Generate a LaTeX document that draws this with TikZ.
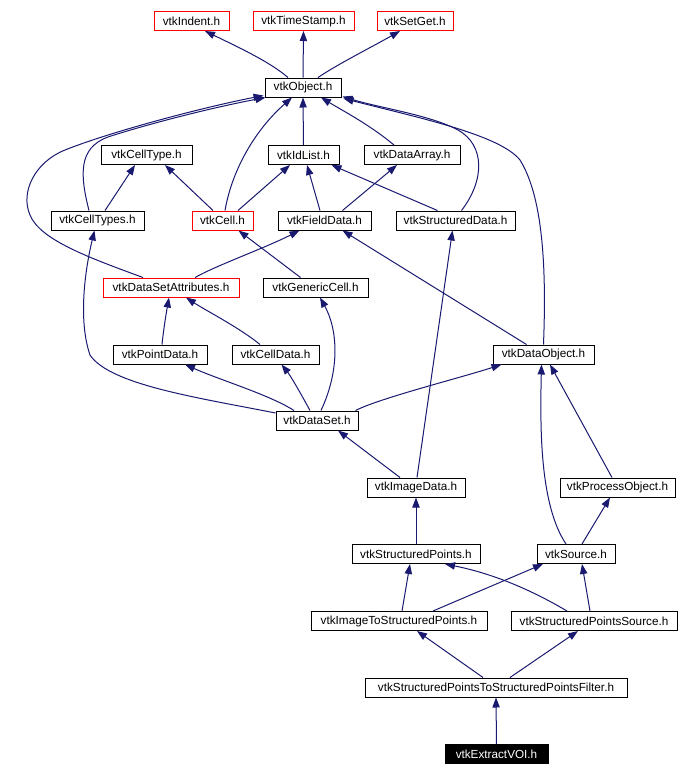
\documentclass[tikz,border=0pt]{standalone}
\usepackage{fontspec}
\setmainfont{Liberation Sans}
\usepackage{tikz}
\usetikzlibrary{arrows.meta,calc}
\definecolor{depblue}{RGB}{25,25,112}

\begin{document}
\begin{tikzpicture}[
  x=0.75pt, y=-0.75pt,
  font=\fontsize{8.8}{10}\selectfont,
  >={Triangle[length=7.5pt,width=5.5pt]},
  hdr/.style={rectangle, draw=black, line width=0.75pt, fill=white,
              inner sep=0pt, minimum height=14.25pt},
  hdrred/.style={hdr, draw=red},
  hdrcur/.style={hdr, fill=black, text=white},
  dep/.style={<-, draw=depblue, line width=0.75pt},
]
\useasboundingbox (0,0) rectangle (678,776);

% Row 1: base headers
\node[hdrred, minimum width=56.25pt] (indent) at (191.5,21) {vtkIndent.h};
\node[hdrred, minimum width=75.75pt] (tstamp) at (303.5,21) {vtkTimeStamp.h};
\node[hdrred, minimum width=57pt] (setget) at (415,21) {vtkSetGet.h};

% Row 2
\node[hdr, minimum width=57pt] (object) at (303,87.5) {vtkObject.h};

% Row 3
\node[hdr, minimum width=68.25pt] (celltype) at (146.5,155) {vtkCellType.h};
\node[hdr, minimum width=53.25pt] (idlist) at (303.5,155) {vtkIdList.h};
\node[hdr, minimum width=72pt] (darray) at (412,155) {vtkDataArray.h};

% Row 4
\node[hdr, minimum width=69.75pt] (celltypes) at (97.5,220.5) {vtkCellTypes.h};
\node[hdrred, minimum width=45.75pt] (cell) at (222.5,220.5) {vtkCell.h};
\node[hdr, minimum width=69.75pt] (fdata) at (324.5,220.5) {vtkFieldData.h};
\node[hdr, minimum width=89.25pt] (sdata) at (455.5,220.5) {vtkStructuredData.h};

% Row 5
\node[hdrred, minimum width=102pt] (dsattr) at (171,287.5) {vtkDataSetAttributes.h};
\node[hdr, minimum width=78.75pt] (gcell) at (315.5,287.5) {vtkGenericCell.h};

% Row 6
\node[hdr, minimum width=70.5pt] (pdata) at (160,354.5) {vtkPointData.h};
\node[hdr, minimum width=65.25pt] (cdata) at (275.5,354.5) {vtkCellData.h};
\node[hdr, minimum width=75.75pt] (dobject) at (543.5,354.5) {vtkDataObject.h};

% Row 7 and 8
\node[hdr, minimum width=61.5pt] (dset) at (317,420.5) {vtkDataSet.h};
\node[hdr, minimum width=73.5pt] (idata) at (416,487.5) {vtkImageData.h};
\node[hdr, minimum width=86.25pt] (pobject) at (617.5,487.5) {vtkProcessObject.h};

% Row 9 and 10
\node[hdr, minimum width=96pt] (spoints) at (416,554) {vtkStructuredPoints.h};
\node[hdr, minimum width=58.5pt] (source) at (576,554) {vtkSource.h};
\node[hdr, minimum width=132pt] (itosp) at (399,621) {vtkImageToStructuredPoints.h};
\node[hdr, minimum width=124.5pt] (spsource) at (594,621) {vtkStructuredPointsSource.h};

% Row 11 and 12
\node[hdr, minimum width=196.5pt] (spfilter) at (496,687.5)
  {vtkStructuredPointsToStructuredPointsFilter.h};
\node[hdrcur, minimum width=77.25pt] (evoi) at (496.5,754) {vtkExtractVOI.h};

% vtkObject and its bases
\draw[dep] (indent.south) ++(13.5,0) .. controls (240,48) and (270,62) .. ($(object.north)+(-15,0)$);
\draw[dep] (tstamp.south) -- (object.north);
\draw[dep] ($(setget.south)+(-15,0)$) .. controls (370,48) and (338,64) .. ($(object.north)+(15,0)$);
\draw[dep] (object.south) -- (idlist.north);
\draw[dep] ($(object.south west)+(1,0)$) .. controls (200,110) and (135,128) .. (108,137)
  .. controls (78,148) and (80,175) .. ($(celltypes.north)+(-8.5,0)$);
\draw[dep] ($(object.south west)+(-1,-2)$) .. controls (200,108) and (110,132) .. (65,150)
  .. controls (35,162) and (20,192) .. (30,215)
  .. controls (40,240) and (90,258) .. ($(dsattr.north)+(-28,0)$);
\draw[dep] ($(object.south)+(-11,0)$) .. controls (255,130) and (232,170) .. ($(cell.north)+(2.5,0)$);
\draw[dep] ($(object.south)+(18,0)$) .. controls (345,112) and (370,125) .. ($(darray.north)+(-18,0)$);
\draw[dep] ($(object.south east)+(1,-1)$) .. controls (380,108) and (430,115) .. (458,130)
  .. controls (485,145) and (485,180) .. ($(sdata.north)+(6,0)$);
\draw[dep] ($(object.south east)+(2,1)$) .. controls (420,118) and (500,135) .. (520,160)
  .. controls (545,200) and (546,280) .. (dobject.north);

% cells and lists
\draw[dep] ($(celltype.south)+(-11.5,0)$) -- ($(celltypes.north)+(7.5,0)$);
\draw[dep] ($(celltype.south)+(18.5,0)$) -- ($(cell.north)+(-9.5,0)$);
\draw[dep] ($(idlist.south)+(-13.5,0)$) -- ($(cell.north)+(15.5,0)$);
\draw[dep] ($(idlist.south)+(3.5,0)$) -- ($(fdata.north)+(-4.5,0)$);
\draw[dep] ($(idlist.south)+(28,0)$) -- ($(sdata.north)+(-18,0)$);
\draw[dep] ($(darray.south)+(-15,0)$) -- ($(fdata.north)+(18,0)$);
\draw[dep] ($(fdata.south)+(-25,0)$) .. controls (265,248) and (215,266) .. ($(dsattr.north)+(24,0)$);
\draw[dep] ($(cell.south)+(16,0)$) -- ($(gcell.north)+(-15,0)$);
\draw[dep] ($(fdata.south)+(18,0)$) -- ($(dobject.north)+(-17,0)$);
\draw[dep] ($(sdata.south)+(-3,0)$) -- ($(idata.north)+(1,0)$);

% data sets
\draw[dep] ($(dsattr.south)+(-2,0)$) .. controls (165,320) and (163,335) .. ($(pdata.north)+(2,0)$);
\draw[dep] ($(dsattr.south)+(15,0)$) .. controls (205,310) and (240,328) .. ($(cdata.north)+(-15.5,0)$);
\draw[dep] ($(celltypes.south)+(-3,0)$) .. controls (85,270) and (78,320) .. (90,355)
  .. controls (110,385) and (200,398) .. ($(dset.west)+(0,-7.5)$);
\draw[dep] ($(pdata.south)+(25,0)$) .. controls (220,380) and (270,395) .. ($(dset.north)+(-23,0)$);
\draw[dep] ($(cdata.south)+(6,0)$) .. controls (290,375) and (300,392) .. ($(dset.north)+(-7,0)$);
\draw[dep] ($(gcell.south)+(4.5,0)$) .. controls (338,330) and (340,370) .. ($(dset.north)+(4,0)$);
\draw[dep] ($(dobject.south)+(-42,0)$) .. controls (460,378) and (380,398) .. ($(dset.north east)+(-3,0)$);
\draw[dep] ($(dset.south)+(21,0)$) -- ($(idata.north)+(-16,0)$);
\draw[dep] ($(dobject.south)+(-2,0)$) .. controls (540,430) and (540,505) .. ($(source.north)+(-10,0)$);
\draw[dep] ($(dobject.south)+(6.5,0)$) -- ($(pobject.north)+(-5.5,0)$);
\draw[dep] ($(pobject.south)+(-7.5,0)$) -- ($(source.north)+(6,0)$);

% structured points pipeline
\draw[dep] (idata.south) -- (spoints.north);
\draw[dep] ($(spoints.south)+(-6,0)$) -- ($(itosp.north)+(3,0)$);
\draw[dep] ($(source.south)+(-33,0)$) -- ($(itosp.north)+(34,0)$);
\draw[dep] ($(spoints.south)+(29,0)$) .. controls (500,575) and (540,595) .. ($(spsource.north)+(-27,0)$);
\draw[dep] ($(source.south)+(6,0)$) -- ($(spsource.north)+(-4,0)$);
\draw[dep] ($(itosp.south)+(18,0)$) -- ($(spfilter.north)+(-13,0)$);
\draw[dep] ($(spsource.south)+(-16,0)$) -- ($(spfilter.north)+(14,0)$);
\draw[dep] (spfilter.south) -- (evoi.north);
\end{tikzpicture}
\end{document}
